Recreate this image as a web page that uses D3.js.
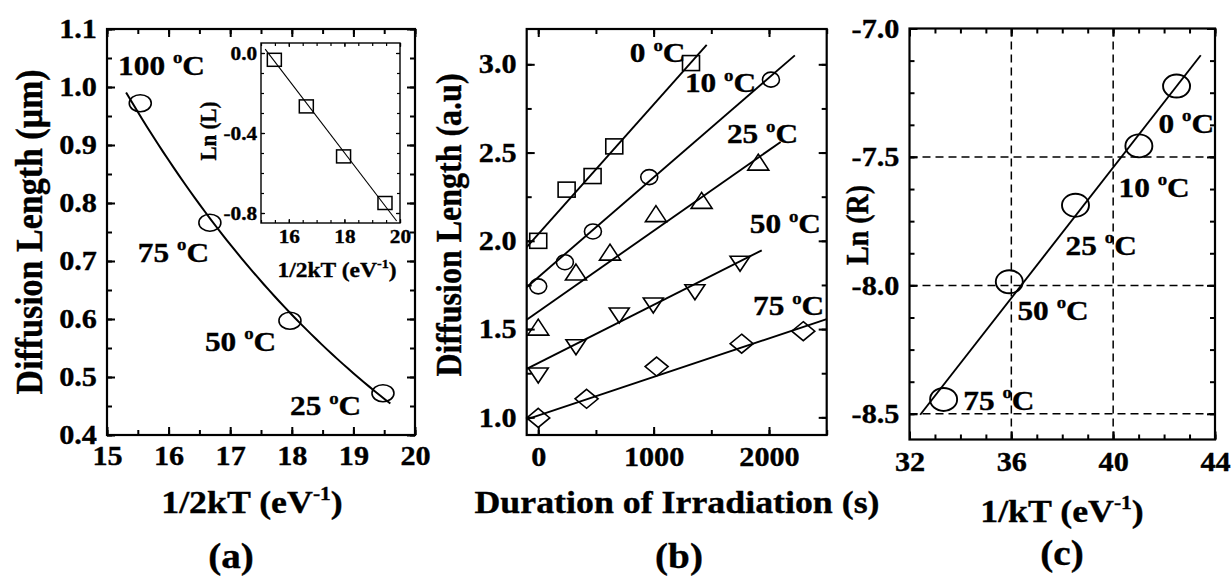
<!DOCTYPE html>
<html>
<head>
<meta charset="utf-8">
<script src="https://cdn.jsdelivr.net/npm/d3@7"></script>
<style>
  body { margin: 0; background: #fff; }
  svg { display: block; }
  text { fill: #000; stroke: #000; stroke-width: 0.35px; white-space: pre; }
</style>
</head>
<body>
<svg id="fig" width="1232" height="578"></svg>
<script>
// ---- (a) diffusion length vs 1/2kT, with ln(L) inset ----
const tempA = ["100", "75", "50", "25"];
const invTwoKT = [15.54, 16.67, 17.97, 19.48];
const diffLenUm = [0.972, 0.766, 0.597, 0.472];
const insetInvTwoKT = [15.48, 16.63, 17.97, 19.46];
const insetLnL = [-0.034, -0.267, -0.517, -0.75];
// ln(L) = a + b * (1/2kT)
const fitLnIntercept = 2.774;
const fitLnSlope = -0.1818;
const curveRangeA = [15.31, 19.6];
const insetLineRange = [15.15, 19.88];

// ---- (b) diffusion length vs irradiation time ----
const tempB = ["0", "10", "25", "50", "75"];
const durationB = [
  [0, 246, 471, 659, 1324],
  [0, 231, 474, 962, 2017],
  [0, 327, 622, 1020, 1416, 1907],
  [0, 327, 702, 997, 1358, 1749],
  [0, 419, 1026, 1763, 2297]
];
const lengthB = [
  [2.0, 2.29, 2.367, 2.535, 3.007],
  [1.742, 1.879, 2.053, 2.361, 2.913],
  [1.511, 1.823, 1.936, 2.154, 2.229, 2.446],
  [1.237, 1.397, 1.577, 1.634, 1.709, 1.87],
  [0.997, 1.105, 1.288, 1.417, 1.488]
];
const fitInterceptB = [2.038, 1.794, 1.599, 1.308, 1.01];
const fitSlopeB = [0.000734, 0.000565, 0.0004575, 0.0003294, 0.0002185];
const fitEndB = [1460, 2224, 2101, 1937, 2500];
const markerB = ["square", "circle", "triangle", "triangleDown", "diamond"];

// ---- (c) Arrhenius plot of ln(R) ----
const tempC = ["0", "10", "25", "50", "75"];
const invKT = [42.49, 41.01, 38.52, 35.92, 33.34];
const lnR = [-7.224, -7.457, -7.688, -7.986, -8.444];
const fitInterceptC = -12.621;
const fitSlopeC = 0.127;
const fitRangeC = [32.42, 43.44];

// temperature label anchors, in data units of each panel
const labelPosA = [[15.18, 1.021], [15.5, 0.698], [16.59, 0.545], [17.97, 0.434]];
const labelPosB = [[794, 3.011], [1271, 2.841], [1635, 2.552], [1833, 2.042], [1861, 1.577]];
const labelPosC = [[41.78, -7.407], [40.21, -7.656], [38.13, -7.882], [36.24, -8.135], [34.11, -8.485]];

const FONT = '"Liberation Serif", "Times New Roman", serif';
const S = 1.12; // horizontal stretch of all lettering

const svg = d3.select("#fig")
  .attr("font-family", FONT)
  .attr("font-weight", "bold");

function addText(parent, x, y, parts, size, opts = {}) {
  const t = parent.append("text")
    .attr("transform", `translate(${x},${y}) scale(${S},1)` + (opts.rotate ? " rotate(-90)" : ""))
    .attr("text-anchor", opts.anchor || "start")
    .attr("font-size", size);
  let raised = 0;
  parts.forEach(p => {
    const sup = typeof p !== "string";
    const shift = sup ? -0.42 * size : 0;
    t.append("tspan")
      .attr("dy", shift - raised)
      .attr("font-size", sup ? size * 0.6 : null)
      .text(sup ? p.sup : p);
    raised = shift;
  });
  return t;
}

const tempLabel = t => [`${t} `, { sup: "o" }, "C"];
const steps = (a, b, step) => d3.range(0, Math.round((b - a) / step) + 1).map(i => a + i * step);

function axes(x, y, o) {
  const g = svg.append("g");
  const [xl, xr] = x.range(), [yb, yt] = y.range();
  g.append("rect")
    .attr("x", xl).attr("y", yt)
    .attr("width", xr - xl).attr("height", yb - yt)
    .attr("fill", o.fill || "none")
    .attr("stroke", "#000").attr("stroke-width", o.sw);
  const sides = [
    [d3.axisBottom, x, `translate(0,${yb})`],
    [d3.axisTop, x, `translate(0,${yt})`],
    [d3.axisLeft, y, `translate(${xl},0)`],
    [d3.axisRight, y, `translate(${xr},0)`]
  ];
  sides.forEach(([make, sc, tr]) => {
    const isX = sc === x;
    [[isX ? o.xMinor : o.yMinor, o.minorLen], [isX ? o.xMajor : o.yMajor, o.majorLen]].forEach(([vals, len]) => {
      const a = g.append("g").attr("transform", tr)
        .call(make(sc).tickValues(vals).tickSize(-len).tickFormat(""));
      a.select(".domain").remove();
      a.selectAll("line").attr("stroke-width", o.tsw);
    });
  });
  [
    [d3.axisBottom(x).tickValues(o.xMajor).tickFormat(o.xFmt).tickPadding(o.xPad), `translate(0,${yb})`],
    [d3.axisLeft(y).tickValues(o.yMajor).tickFormat(o.yFmt).tickPadding(o.yPad), `translate(${xl},0)`]
  ].forEach(([ax, tr]) => {
    const a = g.append("g").attr("transform", tr).call(ax.tickSize(0));
    a.select(".domain").remove();
    a.selectAll("line").remove();
    a.attr("font-family", FONT).attr("font-size", o.fs).attr("font-weight", "bold");
    a.selectAll("text").attr("transform", `scale(${S},1)`).attr("fill", "#000");
  });
  return g;
}

function marker(g, type, cx, cy, w, h, sw) {
  const hw = w / 2, hh = h / 2;
  let el;
  if (type === "circle") {
    el = g.append("ellipse").attr("cx", cx).attr("cy", cy).attr("rx", hw).attr("ry", hh);
  } else if (type === "square") {
    el = g.append("rect").attr("x", cx - hw).attr("y", cy - hh).attr("width", w).attr("height", h);
  } else {
    const pts = {
      triangle: [[0, -hh], [hw, hh], [-hw, hh]],
      triangleDown: [[-hw, -hh], [hw, -hh], [0, hh]],
      diamond: [[0, -hh], [hw, 0], [0, hh], [-hw, 0]]
    }[type];
    el = g.append("polygon").attr("points", pts.map(p => [cx + p[0], cy + p[1]].join(",")).join(" "));
  }
  el.attr("fill", "none").attr("stroke", "#000").attr("stroke-width", sw);
}

// ================= panel (a) =================
const xA = d3.scaleLinear().domain([15, 20]).range([107, 415]);
const yA = d3.scaleLinear().domain([0.4, 1.1]).range([435, 29]);
axes(xA, yA, {
  xMajor: steps(15, 20, 1), xMinor: steps(15, 20, 0.5),
  yMajor: steps(0.4, 1.1, 0.1), yMinor: steps(0.4, 1.1, 0.05),
  xFmt: d3.format("d"), yFmt: d => d.toFixed(1),
  xPad: 11, yPad: 9, fs: 27, sw: 2.2, tsw: 2, majorLen: 8, minorLen: 5
});

const curveA = steps(0, 1, 0.02).map(t => {
  const v = curveRangeA[0] + t * (curveRangeA[1] - curveRangeA[0]);
  return [v, Math.exp(fitLnIntercept + fitLnSlope * v)];
});
svg.append("path")
  .attr("d", d3.line().x(d => xA(d[0])).y(d => yA(d[1]))(curveA))
  .attr("fill", "none").attr("stroke", "#000").attr("stroke-width", 2);

const gA = svg.append("g");
invTwoKT.forEach((v, i) => marker(gA, "circle", xA(v), yA(diffLenUm[i]), 22, 17, 1.6));
tempA.forEach((t, i) => addText(svg, xA(labelPosA[i][0]), yA(labelPosA[i][1]), tempLabel(t), 28));

addText(svg, 42, 232, ["Diffusion Length (\u03bcm)"], 34, { anchor: "middle", rotate: true });
addText(svg, 252, 513, ["1/2kT (eV", { sup: "-1" }, ")"], 32, { anchor: "middle" });
addText(svg, 231, 568, ["(a)"], 35, { anchor: "middle" });

// inset: ln(L) vs 1/2kT
const xI = d3.scaleLinear().domain([15, 20]).range([261, 400]);
const yI = d3.scaleLinear().domain([-0.85, 0.05]).range([223, 43]);
axes(xI, yI, {
  xMajor: [16, 18, 20], xMinor: steps(15, 20, 0.5),
  yMajor: [-0.8, -0.4, 0], yMinor: steps(-0.8, 0, 0.1),
  xFmt: d3.format("d"), yFmt: d => d.toFixed(1),
  xPad: 7, yPad: 3.5, fs: 19, sw: 1.4, tsw: 1.2, majorLen: 4, minorLen: 3, fill: "#fff"
});
svg.append("path")
  .attr("d", d3.line().x(d => xI(d)).y(d => yI(fitLnIntercept + fitLnSlope * d))(insetLineRange))
  .attr("fill", "none").attr("stroke", "#000").attr("stroke-width", 1.1);
const gI = svg.append("g");
insetInvTwoKT.forEach((v, i) => marker(gI, "square", xI(v), yI(insetLnL[i]), 14, 13, 1.5));
addText(svg, 216, 131, ["Ln (L)"], 21, { anchor: "middle", rotate: true });
addText(svg, 337, 277, ["1/2kT (eV", { sup: "-1" }, ")"], 21, { anchor: "middle" });

// ================= panel (b) =================
const xB = d3.scaleLinear().domain([-100, 2500]).range([526.7, 826.7]);
const yB = d3.scaleLinear().domain([0.9, 3.2]).range([435, 29]);
axes(xB, yB, {
  xMajor: [0, 1000, 2000], xMinor: steps(0, 2500, 500),
  yMajor: steps(1, 3, 0.5), yMinor: steps(1, 3, 0.25),
  xFmt: d3.format("d"), yFmt: d => d.toFixed(1),
  xPad: 12, yPad: 9, fs: 27, sw: 2.2, tsw: 2, majorLen: 8, minorLen: 5
});

const markerSize = {
  square: [17, 15], circle: [17, 15], triangle: [21, 16], triangleDown: [20, 15], diamond: [23, 19]
};
tempB.forEach((t, s) => {
  const g = svg.append("g");
  g.append("path")
    .attr("d", d3.line().x(d => xB(d)).y(d => yB(fitInterceptB[s] + fitSlopeB[s] * d))([-100, fitEndB[s]]))
    .attr("fill", "none").attr("stroke", "#000").attr("stroke-width", 1.9);
  const [w, h] = markerSize[markerB[s]];
  durationB[s].forEach((v, i) => marker(g, markerB[s], xB(v), yB(lengthB[s][i]), w, h, 1.6));
  addText(svg, xB(labelPosB[s][0]), yB(labelPosB[s][1]), tempLabel(t), 28);
});

addText(svg, 461, 225, ["Diffusion Length (a.u)"], 32, { anchor: "middle", rotate: true });
addText(svg, 677, 513, ["Duration of Irradiation (s)"], 32, { anchor: "middle" });
addText(svg, 679, 568, ["(b)"], 35, { anchor: "middle" });

// ================= panel (c) =================
const xC = d3.scaleLinear().domain([32, 44]).range([909.5, 1215]);
const yC = d3.scaleLinear().domain([-8.6, -7.0]).range([439.5, 28.5]);

const grid = svg.append("g")
  .attr("stroke", "#000").attr("stroke-width", 1.5).attr("stroke-dasharray", "8,5");
[36, 40].forEach(v => grid.append("line")
  .attr("x1", xC(v)).attr("x2", xC(v)).attr("y1", yC.range()[1]).attr("y2", yC.range()[0]));
[-7.5, -8, -8.5].forEach(v => grid.append("line")
  .attr("x1", xC.range()[0]).attr("x2", xC.range()[1]).attr("y1", yC(v)).attr("y2", yC(v)));

axes(xC, yC, {
  xMajor: steps(32, 44, 4), xMinor: steps(32, 44, 1),
  yMajor: steps(-8.5, -7, 0.5), yMinor: steps(-8.5, -7, 0.125),
  xFmt: d3.format("d"), yFmt: d => d.toFixed(1),
  xPad: 12, yPad: 9, fs: 27, sw: 2.2, tsw: 2, majorLen: 8, minorLen: 5
});

svg.append("path")
  .attr("d", d3.line().x(d => xC(d)).y(d => yC(fitInterceptC + fitSlopeC * d))(fitRangeC))
  .attr("fill", "none").attr("stroke", "#000").attr("stroke-width", 1.9);
const gC = svg.append("g");
invKT.forEach((v, i) => marker(gC, "circle", xC(v), yC(lnR[i]), 27, 23, 1.9));
tempC.forEach((t, i) => addText(svg, xC(labelPosC[i][0]), yC(labelPosC[i][1]), tempLabel(t), 28));

addText(svg, 868, 225, ["Ln (R)"], 28, { anchor: "middle", rotate: true });
addText(svg, 1062, 522, ["1/kT (eV", { sup: "-1" }, ")"], 32, { anchor: "middle" });
addText(svg, 1062, 565, ["(c)"], 35, { anchor: "middle" });
</script>
</body>
</html>
